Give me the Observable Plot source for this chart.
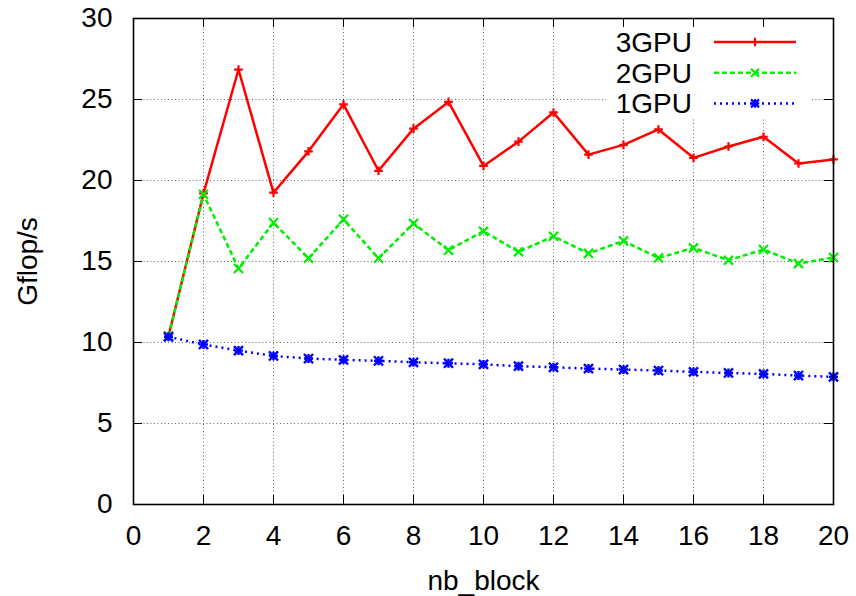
<!DOCTYPE html>
<html>
<head>
<meta charset="utf-8">
<script src="https://cdn.jsdelivr.net/npm/d3@7"></script>
<script src="https://cdn.jsdelivr.net/npm/@observablehq/plot@0.6"></script>
<style>
  html, body { margin: 0; padding: 0; background: #fff; }
  #wrap { position: relative; width: 856px; height: 596px; overflow: hidden; }
  #legend { position: absolute; left: 0; top: 0; }
</style>
</head>
<body>
<div id="wrap"></div>
<script>
// ---- data ----
const nbBlock = [1, 2, 3, 4, 5, 6, 7, 8, 9, 10, 11, 12, 13, 14, 15, 16, 17, 18, 19, 20];
const gpu3 = [10.4, 19.2, 26.85, 19.25, 21.8, 24.7, 20.6, 23.2, 24.85, 20.9, 22.4, 24.2, 21.6, 22.2, 23.15, 21.4, 22.1, 22.7, 21.05, 21.3];
const gpu2 = [10.4, 19.15, 14.57, 17.4, 15.2, 17.6, 15.2, 17.35, 15.7, 16.87, 15.6, 16.56, 15.5, 16.27, 15.22, 15.84, 15.08, 15.74, 14.87, 15.25];
const gpu1 = [10.35, 9.88, 9.5, 9.17, 9.01, 8.93, 8.87, 8.78, 8.72, 8.65, 8.54, 8.47, 8.39, 8.33, 8.27, 8.19, 8.12, 8.06, 7.96, 7.88];
const seriesNames = ["3GPU", "2GPU", "1GPU"];
const xTicks = [0, 2, 4, 6, 8, 10, 12, 14, 16, 18, 20];
const yTicks = [0, 5, 10, 15, 20, 25, 30];

// ---- styles ----
const colors = {"3GPU": "#ff0000", "2GPU": "#00ee00", "1GPU": "#0000ff"};
const dashes = {"3GPU": null, "2GPU": "5,3", "1GPU": "2,4"};

const rows = (vals, name) => nbBlock.map((x, i) => ({x, y: vals[i], series: name}));
const d3gpu = rows(gpu3, "3GPU");
const d2gpu = rows(gpu2, "2GPU");
const d1gpu = rows(gpu1, "1GPU");

const W = 856, H = 596, mL = 133, mR = 23, mT = 18, mB = 92;
const innerH = H - mT - mB, innerW = W - mL - mR;
const tick = 9;
const font = "'Liberation Sans', Arial, Helvetica, sans-serif";

const lineOpts = (name) => ({x: "x", y: "y", stroke: colors[name], strokeWidth: 2.5,
  strokeDasharray: dashes[name], strokeLinecap: "butt", strokeLinejoin: "miter"});

const chart = Plot.plot({
  width: W, height: H,
  marginLeft: mL, marginRight: mR, marginTop: mT, marginBottom: mB,
  style: {fontFamily: font, fontSize: "28px", background: "#fff", color: "#000", overflow: "visible"},
  x: {domain: [0, 20]},
  y: {domain: [0, 30]},
  marks: [
    Plot.gridX(xTicks, {stroke: "#000", strokeOpacity: 0.6, strokeDasharray: "1,2.5", strokeWidth: 1}),
    Plot.gridY(yTicks, {stroke: "#000", strokeOpacity: 0.6, strokeDasharray: "1,2.5", strokeWidth: 1}),
    Plot.ruleX(xTicks, {insetTop: innerH - tick, stroke: "#000", strokeWidth: 1}),
    Plot.ruleX(xTicks, {insetBottom: innerH - tick, stroke: "#000", strokeWidth: 1}),
    Plot.ruleY(yTicks, {insetRight: innerW - tick, stroke: "#000", strokeWidth: 1}),
    Plot.ruleY(yTicks, {insetLeft: innerW - tick, stroke: "#000", strokeWidth: 1}),
    Plot.axisX(xTicks, {tickSize: 0, tickPadding: 21, fontSize: 28, label: "nb_block", labelAnchor: "center", labelOffset: 85, labelArrow: "none"}),
    Plot.axisY(yTicks, {tickSize: 0, tickPadding: 21, fontSize: 28, label: "Gflop/s", labelAnchor: "center", labelOffset: 116, labelArrow: "none"}),
    Plot.line(d3gpu, lineOpts("3GPU")),
    Plot.dot(d3gpu, {x: "x", y: "y", symbol: "plus", r: 2.9, stroke: colors["3GPU"], strokeWidth: 2.2}),
    Plot.line(d2gpu, lineOpts("2GPU")),
    Plot.dot(d2gpu, {x: "x", y: "y", symbol: "times", r: 4.2, stroke: colors["2GPU"], strokeWidth: 2.2}),
    Plot.line(d1gpu, lineOpts("1GPU")),
    Plot.dot(d1gpu, {x: "x", y: "y", symbol: "plus", r: 3.0, stroke: colors["1GPU"], strokeWidth: 2.4}),
    Plot.dot(d1gpu, {x: "x", y: "y", symbol: "times", r: 4.2, stroke: colors["1GPU"], strokeWidth: 2.4}),
    Plot.frame({stroke: "#000", strokeWidth: 1.6})
  ]
});

const wrap = document.getElementById("wrap");
wrap.appendChild(chart);

// ---- legend (gnuplot-style key, top right, opaque) ----
const leg = d3.select(wrap).append("svg")
  .attr("id", "legend").attr("width", W).attr("height", H)
  .style("font-family", font).style("font-size", "28px");
leg.append("rect").attr("x", 606).attr("y", 27).attr("width", 206).attr("height", 90).attr("fill", "#fff");
const rowY = (i) => 42 + i * 30.7;
seriesNames.forEach((name, i) => {
  const g = leg.append("g");
  const y = rowY(i);
  g.append("text").attr("x", 692).attr("y", y).attr("dy", "0.35em").attr("text-anchor", "end").attr("fill", "#000").text(name);
  g.append("line").attr("x1", 714).attr("x2", 796).attr("y1", y).attr("y2", y)
    .attr("stroke", colors[name]).attr("stroke-width", 2.5)
    .attr("stroke-dasharray", dashes[name]);
  const m = g.append("g").attr("transform", `translate(755,${y})`).attr("stroke", colors[name]).attr("stroke-width", 2.2).attr("fill", "none");
  if (name === "3GPU" || name === "1GPU") m.append("path").attr("d", "M-4.3,0H4.3M0,-4.3V4.3");
  if (name === "2GPU" || name === "1GPU") m.append("path").attr("d", "M-4,-4L4,4M-4,4L4,-4");
});
</script>
</body>
</html>
